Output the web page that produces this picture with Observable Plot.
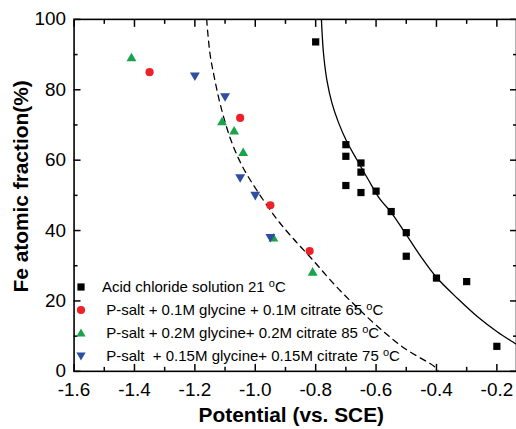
<!DOCTYPE html>
<html><head><meta charset="utf-8">
<script src="https://cdn.jsdelivr.net/npm/d3@7"></script>
<script src="https://cdn.jsdelivr.net/npm/@observablehq/plot@0.6"></script>
<style>
body{margin:0;background:#fff;font-family:"Liberation Sans",Arial,Helvetica,sans-serif;}
#wrap{position:relative;width:516px;height:429px;overflow:hidden;}
#legend{position:absolute;left:74px;top:275px;font-size:15px;color:#000;}
.row{height:23.1px;display:flex;align-items:center;white-space:pre;}
.row svg{width:14px;height:14px;margin-right:14px;flex:none;}
.deg{font-size:11px;position:relative;top:-5px;}
</style></head><body><div id="wrap"><div id="legend"></div></div>
<script>
// Acid chloride solution 21 °C (black squares)
const acidX = [-0.80, -0.70, -0.70, -0.65, -0.65, -0.70, -0.65, -0.60, -0.55, -0.50, -0.50, -0.40, -0.30, -0.20];
const acidY = [93.6, 64.4, 61.1, 59.2, 56.6, 52.8, 50.8, 51.2, 45.4, 39.4, 32.7, 26.5, 25.5, 7.1];
// P-salt + 0.1M glycine + 0.1M citrate 65 °C (red circles)
const g01X = [-1.35, -1.05, -0.95, -0.82];
const g01Y = [85.0, 72.0, 47.2, 34.2];
// P-salt + 0.2M glycine + 0.2M citrate 85 °C (green triangles)
const g02X = [-1.41, -1.11, -1.07, -1.04, -0.94, -0.81];
const g02Y = [88.9, 70.7, 68.1, 62.0, 37.7, 28.0];
// P-salt + 0.15M glycine + 0.15M citrate 75 °C (blue down triangles)
const g015X = [-1.20, -1.10, -1.05, -1.00, -0.95];
const g015Y = [84.1, 78.2, 55.2, 50.2, 38.2];
// solid fit curve (acid chloride)
const solidX = [-0.781, -0.774, -0.763, -0.746, -0.724, -0.697, -0.664, -0.626, -0.587, -0.552, -0.505, -0.450, -0.401, -0.329, -0.264, -0.198, -0.148, -0.135];
const solidY = [100, 90.3, 82.8, 76.2, 70.6, 65.3, 60.2, 54.5, 48.9, 45.4, 39.5, 32.4, 26.8, 20.6, 15.5, 11.2, 8.4, 7.7];
// dashed fit curve (P-salt baths)
const dashX = [-1.161, -1.150, -1.136, -1.114, -1.081, -1.043, -0.993, -0.928, -0.873, -0.807, -0.735, -0.669, -0.593, -0.505, -0.406, -0.393];
const dashY = [100, 90.3, 83.7, 75.2, 65.8, 58.3, 51.2, 43.2, 37.6, 31.4, 24.4, 18.7, 12.6, 6.5, 1.3, 0];

const xMajor = [-1.6, -1.4, -1.2, -1.0, -0.8, -0.6, -0.4, -0.2];
const xMinor = [-1.5, -1.3, -1.1, -0.9, -0.7, -0.5, -0.3];
const yMajor = [0, 20, 40, 60, 80, 100];
const yMinor = [10, 30, 50, 70, 90];

const seriesText = ["Acid chloride solution 21 ", " P-salt + 0.1M glycine + 0.1M citrate 65 ", " P-salt + 0.2M glycine+ 0.2M citrate 85 ", " P-salt  + 0.15M glycine+ 0.15M citrate 75 "];
const colors = ["#000000", "#ee2128", "#1ba34b", "#2d4f9e"];

const triDown = {draw(context, size) {
  const y = -Math.sqrt(size / (Math.sqrt(3) * 3));
  context.moveTo(0, -y * 2);
  context.lineTo(-Math.sqrt(3) * y, y);
  context.lineTo(Math.sqrt(3) * y, y);
  context.closePath();
}};

const pts = (xs, ys) => xs.map((x, i) => ({x, y: ys[i]}));
const font = '"Liberation Sans",Arial,Helvetica,sans-serif';

const chart = Plot.plot({
  width: 519, height: 429,
  marginLeft: 74, marginRight: 0, marginTop: 19, marginBottom: 56,
  x: {domain: [-1.6, -0.135]},
  y: {domain: [0, 100]},
  style: {fontFamily: font, fontSize: "19px", color: "#000", background: "#fff", overflow: "visible"},
  marks: [
    Plot.line(pts(solidX, solidY), {x: "x", y: "y", stroke: "#000", strokeWidth: 1.3, curve: "catmull-rom", clip: true}),
    Plot.line(pts(dashX, dashY), {x: "x", y: "y", stroke: "#000", strokeWidth: 1.3, strokeDasharray: "6,5", curve: "catmull-rom", clip: true}),
    Plot.dot(pts(acidX, acidY), {x: "x", y: "y", symbol: "square", r: 4.1, fill: colors[0]}),
    Plot.dot(pts(g01X, g01Y), {x: "x", y: "y", symbol: "circle", r: 4.1, fill: colors[1]}),
    Plot.dot(pts(g02X, g02Y), {x: "x", y: "y", symbol: "triangle", r: 3.7, fill: colors[2]}),
    Plot.dot(pts(g015X, g015Y), {x: "x", y: "y", symbol: triDown, r: 3.7, fill: colors[3]}),
    Plot.axisX({anchor: "bottom", ticks: xMajor, tickSize: -7, tickPadding: 18, strokeWidth: 1.5, tickFormat: d => d.toFixed(1), label: null}),
    Plot.axisX({anchor: "bottom", ticks: xMinor, tickSize: -4, strokeWidth: 1.5, tickFormat: () => "", label: null}),
    Plot.axisX({anchor: "top", ticks: xMajor, tickSize: -7, strokeWidth: 1.5, tickFormat: () => "", label: null}),
    Plot.axisX({anchor: "top", ticks: xMinor, tickSize: -4, strokeWidth: 1.5, tickFormat: () => "", label: null}),
    Plot.axisY({anchor: "left", ticks: yMajor, tickSize: -7, tickPadding: 15, strokeWidth: 1.5, tickFormat: d => String(d), label: null}),
    Plot.axisY({anchor: "left", ticks: yMinor, tickSize: -4, strokeWidth: 1.5, tickFormat: () => "", label: null}),
    Plot.axisY({anchor: "right", ticks: yMajor, tickSize: -7, strokeWidth: 1.5, tickFormat: () => "", label: null}),
    Plot.axisY({anchor: "right", ticks: yMinor, tickSize: -4, strokeWidth: 1.5, tickFormat: () => "", label: null}),
    Plot.frame({stroke: "#000", strokeWidth: 1.6}),
    Plot.text(["Fe atomic fraction(%)"], {frameAnchor: "left", textAnchor: "middle", lineAnchor: "middle", rotate: -90, dx: -53, dy: -9, fontSize: 21, fontWeight: "bold"}),
    Plot.text(["Potential (vs. SCE)"], {frameAnchor: "bottom", textAnchor: "middle", dx: -4, dy: 51, fontSize: 21, fontWeight: "bold"})
  ]
});
const wrap = document.getElementById("wrap");
wrap.insertBefore(chart, wrap.firstChild);

// legend
const legend = document.getElementById("legend");
const shapes = [
  '<rect x="3.4" y="3.4" width="7.2" height="7.2"/>',
  '<circle cx="7" cy="7" r="4.1"/>',
  '<path d="M7,2.4L11.6,10.4L2.4,10.4Z"/>',
  '<path d="M7,11.6L11.6,3.6L2.4,3.6Z"/>'
];
seriesText.forEach((s, i) => {
  const row = document.createElement("div");
  row.className = "row";
  row.innerHTML = `<svg viewBox="0 0 14 14" fill="${colors[i]}">${shapes[i]}</svg><span></span>`;
  const span = row.querySelector("span");
  span.append(document.createTextNode(s));
  const deg = document.createElement("span");
  deg.className = "deg";
  deg.textContent = "o";
  span.append(deg, document.createTextNode("C"));
  legend.appendChild(row);
});
</script>
</body></html>
